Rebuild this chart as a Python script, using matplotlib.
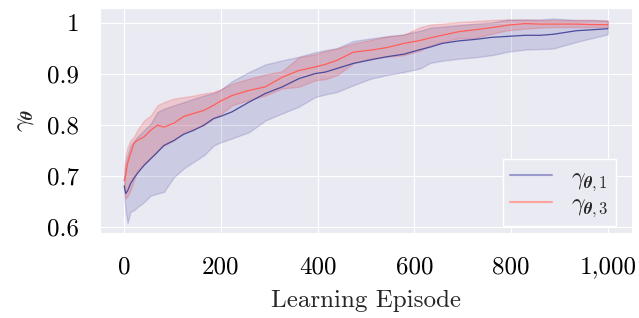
import matplotlib
matplotlib.use("Agg")
import matplotlib.pyplot as plt
import seaborn as sns
from matplotlib.lines import Line2D
from matplotlib.ticker import FuncFormatter

episode = [0, 3, 7, 13, 20, 27, 41, 55, 69, 82, 103, 123, 144, 165, 185, 199,
           223, 258, 292, 327, 361, 395, 416, 440, 474, 510, 543, 578, 612,
           633, 657, 691, 726, 760, 794, 829, 860, 887, 935, 970, 1000]

# gamma_theta,1
g1_mean = [0.680, 0.665, 0.670, 0.684, 0.695, 0.704, 0.720, 0.733, 0.746, 0.759,
           0.769, 0.781, 0.789, 0.799, 0.812, 0.816, 0.825, 0.844, 0.861, 0.874,
           0.890, 0.900, 0.903, 0.910, 0.920, 0.927, 0.933, 0.938, 0.947, 0.952,
           0.959, 0.964, 0.967, 0.971, 0.973, 0.975, 0.975, 0.977, 0.984, 0.986, 0.988]
g1_low = [0.660, 0.630, 0.607, 0.629, 0.632, 0.638, 0.648, 0.661, 0.665, 0.668,
          0.697, 0.714, 0.727, 0.740, 0.759, 0.765, 0.773, 0.785, 0.808, 0.822,
          0.835, 0.854, 0.859, 0.864, 0.877, 0.890, 0.897, 0.903, 0.910, 0.921,
          0.925, 0.929, 0.932, 0.936, 0.943, 0.947, 0.948, 0.949, 0.962, 0.970, 0.977]
g1_high = [0.700, 0.724, 0.740, 0.759, 0.768, 0.776, 0.789, 0.802, 0.825, 0.831,
           0.838, 0.844, 0.851, 0.857, 0.862, 0.868, 0.885, 0.903, 0.918, 0.926,
           0.933, 0.942, 0.946, 0.950, 0.964, 0.969, 0.973, 0.977, 0.984, 0.990,
           0.992, 0.995, 0.998, 1.000, 1.006, 1.006, 1.006, 1.008, 1.005, 1.005, 1.004]

# gamma_theta,3
g3_mean = [0.690, 0.700, 0.724, 0.743, 0.763, 0.769, 0.776, 0.789, 0.799, 0.795,
           0.803, 0.816, 0.822, 0.828, 0.838, 0.846, 0.857, 0.867, 0.874, 0.893,
           0.906, 0.913, 0.918, 0.926, 0.942, 0.946, 0.951, 0.959, 0.965, 0.970,
           0.975, 0.982, 0.986, 0.990, 0.995, 0.998, 0.997, 0.997, 0.997, 0.996, 0.996]
g3_low = [0.680, 0.655, 0.660, 0.671, 0.690, 0.710, 0.724, 0.736, 0.750, 0.759,
          0.769, 0.785, 0.792, 0.799, 0.812, 0.820, 0.838, 0.848, 0.857, 0.871,
          0.874, 0.887, 0.889, 0.897, 0.920, 0.930, 0.933, 0.936, 0.945, 0.955,
          0.962, 0.969, 0.970, 0.978, 0.985, 0.988, 0.990, 0.991, 0.991, 0.991, 0.991]
g3_high = [0.720, 0.740, 0.756, 0.769, 0.776, 0.789, 0.808, 0.818, 0.838, 0.844,
           0.851, 0.854, 0.857, 0.861, 0.864, 0.869, 0.880, 0.890, 0.898, 0.905,
           0.932, 0.938, 0.944, 0.949, 0.959, 0.966, 0.973, 0.976, 0.991, 0.996,
           0.998, 1.001, 1.003, 1.005, 1.006, 1.006, 1.005, 1.005, 1.005, 1.005, 1.004]

yticks = [0.6, 0.7, 0.8, 0.9, 1.0]
ytick_labels = ["0.6", "0.7", "0.8", "0.9", "1"]

sns.set_style("darkgrid")
plt.rcParams["font.family"] = "serif"
plt.rcParams["font.serif"] = ["cmr10"]
plt.rcParams["mathtext.fontset"] = "cm"
plt.rcParams["axes.formatter.use_mathtext"] = True

fig, ax = plt.subplots(figsize=(6.39, 3.18), dpi=100)
fig.subplots_adjust(left=0.1565, right=0.989, top=0.974, bottom=0.268)

ax.fill_between(episode, g1_low, g1_high, color="navy", alpha=0.13, linewidth=1)
ax.fill_between(episode, g3_low, g3_high, color="red", alpha=0.14, linewidth=1)
ax.plot(episode, g1_mean, color="#4b4b9b", linewidth=0.9)
ax.plot(episode, g3_mean, color="#ff5f57", linewidth=0.9)

ax.set_xlim(-50, 1050)
ax.set_ylim(0.588, 1.028)
ax.set_yticks(yticks)
ax.set_yticklabels(ytick_labels)
ax.xaxis.set_major_formatter(FuncFormatter(lambda v, p: f"{int(v):,}"))
ax.tick_params(axis="both", labelsize=18, length=7, width=0.8, color="#333333",
               labelcolor="black")
ax.tick_params(axis="x", pad=10)
ax.tick_params(axis="y", pad=8)

ax.set_xlabel("Learning Episode", fontsize=18, labelpad=8)
ax.set_ylabel(r"$\gamma_{\boldsymbol{\theta}}$", fontsize=18, labelpad=8)

handles = [Line2D([], [], color="#9c9ccc", linewidth=1.5),
           Line2D([], [], color="#ffa39e", linewidth=1.5)]
ax.legend(handles, [r"$\gamma_{\boldsymbol{\theta},1}$", r"$\gamma_{\boldsymbol{\theta},3}$"],
          loc="lower right", bbox_to_anchor=(0.970, 0.030), borderaxespad=0,
          fontsize=17, handlelength=1.8, labelspacing=0.0, borderpad=0.3,
          facecolor="#eaeaf2", edgecolor="white", framealpha=1, fancybox=False)

fig.savefig("out.png", dpi=100)
